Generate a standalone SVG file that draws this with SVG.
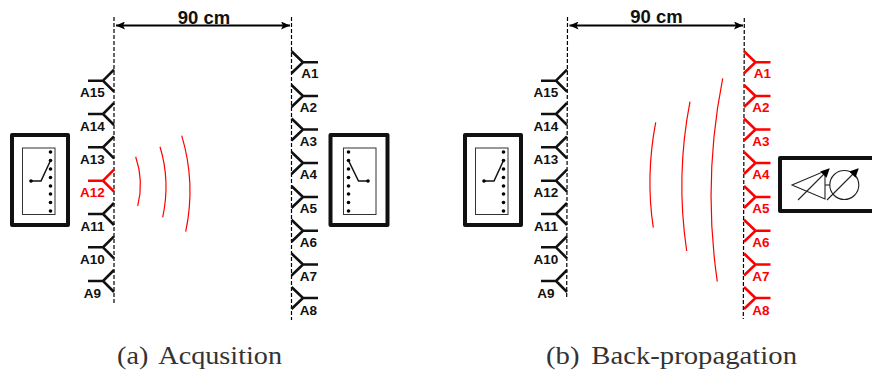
<svg xmlns="http://www.w3.org/2000/svg" width="872" height="374" viewBox="0 0 872 374">
<style>
text{font-family:"Liberation Sans",Arial,sans-serif;font-weight:bold;fill:#111}
.lb{font-size:13.500px;text-anchor:middle}
.dim{font-size:18.500px;text-anchor:middle}
.cap{font-family:"Liberation Serif","Times New Roman",serif;font-weight:normal;font-size:25px;fill:#333;word-spacing:4px}
.dash{fill:none;stroke:#000;stroke-width:1.2;stroke-dasharray:4 2}
.ant{fill:none;stroke:#111;stroke-width:2.600}
.red .ant{stroke:#f00}
.red text{fill:#f00}
.box{fill:#fff;stroke:#111;stroke-width:4;stroke-linejoin:round}
.inner{fill:none;stroke:#333;stroke-width:1}
.sw{fill:none;stroke:#111;stroke-width:1.5}
.wave{fill:none;stroke:#f00;stroke-width:1.2}
.thin{fill:none;stroke:#222;stroke-width:1.1}
.arrow{fill:none;stroke:#000;stroke-width:2.200;marker-start:url(#h);marker-end:url(#h)}
</style>
<defs>
<marker id="h" markerWidth="10" markerHeight="8" refX="9" refY="4" orient="auto-start-reverse" markerUnits="userSpaceOnUse"><path d="M0 0L9 4L0 8L2 4Z" fill="#000"/></marker>
<marker id="p" markerWidth="10" markerHeight="9" refX="8" refY="4.5" orient="auto" markerUnits="userSpaceOnUse"><path d="M0 0L9 4.5L0 9Z" fill="#000"/></marker>
<path id="al" d="M88 0H103M114 -11L103 0L114 11"/>
<path id="ar" d="M318 0H303M291.500 -11L303 0L291.500 11"/>
<g id="dots"><circle cy="152" r="1.800"/><circle cy="160.500" r="1.800"/><circle cy="169" r="1.800"/><circle cy="177.500" r="1.800"/><circle cy="186" r="1.800"/><circle cy="194" r="1.800"/><circle cy="202.500" r="1.800"/><circle cy="211" r="1.800"/></g>
</defs>

<g id="connectors">
<path class="dash" d="M114 17V303"/>
<path class="dash" d="M291.500 17V320"/>
<path class="dash" d="M567.500 17L566.700 298"/>
<path class="dash" d="M744.300 18L743.300 319"/>
<path class="arrow" d="M116 25.500H290"/>
<path class="arrow" d="M569.500 25.500H743"/>
<path class="wave" d="M135.700 156.700Q144 181 137.700 206"/>
<path class="wave" d="M160 146.700Q170.500 181 162.700 217.300"/>
<path class="wave" d="M181.700 135.700Q196 183 185.700 231.700"/>
<path class="wave" d="M655.700 122.300Q645.500 176 653.300 227.700"/>
<path class="wave" d="M690 101.700Q675.500 176 686.700 251"/>
<path class="wave" d="M722.700 78.300Q702.500 180 717.300 281.700"/>
</g>

<text class="dim" x="204" y="24">90 cm</text>
<text class="dim" x="656.500" y="23.300">90 cm</text>

<g id="a-switch-left">
<rect class="box" x="12" y="135" width="56" height="90"/>
<rect class="inner" x="22.500" y="148" width="32.500" height="66.500"/>
<use href="#dots" x="50.500"/>
<path class="sw" d="M31 181H41L50.500 160.500"/>
<circle cx="31" cy="181" r="1.800"/>
</g>
<g id="a-switch-right">
<rect class="box" x="330.500" y="135" width="57" height="90"/>
<rect class="inner" x="343.500" y="148" width="32.500" height="66.500"/>
<use href="#dots" x="348.500"/>
<path class="sw" d="M348.500 160.500L358.500 181H368"/>
<circle cx="368" cy="181" r="1.800"/>
</g>

<g id="a-A15"><use class="ant" href="#al" y="80.700"/><text class="lb" x="92.500" y="97">A15</text></g>
<g id="a-A14"><use class="ant" href="#al" y="114"/><text class="lb" x="92.500" y="130.500">A14</text></g>
<g id="a-A13"><use class="ant" href="#al" y="147.300"/><text class="lb" x="92.500" y="164.300">A13</text></g>
<g id="a-A12" class="red"><use class="ant" href="#al" y="180.700"/><text class="lb" x="92.500" y="197.300">A12</text></g>
<g id="a-A11"><use class="ant" href="#al" y="214"/><text class="lb" x="92.500" y="231">A11</text></g>
<g id="a-A10"><use class="ant" href="#al" y="247.300"/><text class="lb" x="92.500" y="264">A10</text></g>
<g id="a-A9"><use class="ant" href="#al" y="281"/><text class="lb" x="92.500" y="297.500">A9</text></g>

<g id="a-A1"><use class="ant" href="#ar" y="62.300"/><text class="lb" x="310" y="78">A1</text></g>
<g id="a-A2"><use class="ant" href="#ar" y="96"/><text class="lb" x="308.500" y="112">A2</text></g>
<g id="a-A3"><use class="ant" href="#ar" y="129.500"/><text class="lb" x="308.500" y="146">A3</text></g>
<g id="a-A4"><use class="ant" href="#ar" y="163"/><text class="lb" x="308.500" y="179">A4</text></g>
<g id="a-A5"><use class="ant" href="#ar" y="197"/><text class="lb" x="308.500" y="213">A5</text></g>
<g id="a-A6"><use class="ant" href="#ar" y="230.700"/><text class="lb" x="308.500" y="246.500">A6</text></g>
<g id="a-A7"><use class="ant" href="#ar" y="264.500"/><text class="lb" x="308.500" y="281">A7</text></g>
<g id="a-A8"><use class="ant" href="#ar" y="298"/><text class="lb" x="308.500" y="315">A8</text></g>

<g id="b-switch">
<rect class="box" x="465" y="135" width="56" height="90"/>
<rect class="inner" x="475.500" y="148" width="32.500" height="66.500"/>
<use href="#dots" x="503.500"/>
<path class="sw" d="M484 181H494L503.500 160.500"/>
<circle cx="484" cy="181" r="1.800"/>
</g>
<g id="b-amp">
<rect class="box" x="780" y="158" width="94" height="53"/>
<path class="thin" d="M792 185L825 171V199Z"/>
<path class="thin" d="M825 185H830"/>
<circle class="thin" cx="844.300" cy="185" r="14.500"/>
<path class="thin" d="M798 200L829 169" marker-end="url(#p)"/>
<path class="thin" d="M827 200L858 169" marker-end="url(#p)"/>
</g>

<g id="b-A15"><use class="ant" href="#al" x="453" y="80.700"/><text class="lb" x="546" y="97">A15</text></g>
<g id="b-A14"><use class="ant" href="#al" x="453" y="114"/><text class="lb" x="546" y="130.500">A14</text></g>
<g id="b-A13"><use class="ant" href="#al" x="453" y="147.300"/><text class="lb" x="546" y="164.300">A13</text></g>
<g id="b-A12"><use class="ant" href="#al" x="453" y="180.700"/><text class="lb" x="546" y="197.300">A12</text></g>
<g id="b-A11"><use class="ant" href="#al" x="453" y="214"/><text class="lb" x="546" y="231">A11</text></g>
<g id="b-A10"><use class="ant" href="#al" x="453" y="247.300"/><text class="lb" x="546" y="264">A10</text></g>
<g id="b-A9"><use class="ant" href="#al" x="453" y="281"/><text class="lb" x="546" y="297.500">A9</text></g>

<g id="b-A1" class="red"><use class="ant" href="#ar" x="452.500" y="62.300"/><text class="lb" x="762.500" y="78">A1</text></g>
<g id="b-A2" class="red"><use class="ant" href="#ar" x="452.500" y="96"/><text class="lb" x="761" y="112">A2</text></g>
<g id="b-A3" class="red"><use class="ant" href="#ar" x="452.500" y="129.500"/><text class="lb" x="761" y="146">A3</text></g>
<g id="b-A4" class="red"><use class="ant" href="#ar" x="452.500" y="163"/><text class="lb" x="761" y="179">A4</text></g>
<g id="b-A5" class="red"><use class="ant" href="#ar" x="452.500" y="197"/><text class="lb" x="761" y="213">A5</text></g>
<g id="b-A6" class="red"><use class="ant" href="#ar" x="452.500" y="230.700"/><text class="lb" x="761" y="246.500">A6</text></g>
<g id="b-A7" class="red"><use class="ant" href="#ar" x="452.500" y="264.500"/><text class="lb" x="761" y="281">A7</text></g>
<g id="b-A8" class="red"><use class="ant" href="#ar" x="452.500" y="298"/><text class="lb" x="761" y="315">A8</text></g>

<text class="cap" x="117" y="364" textLength="165" lengthAdjust="spacingAndGlyphs">(a) Acqusition</text>
<text class="cap" x="546" y="364" textLength="251" lengthAdjust="spacingAndGlyphs">(b) Back-propagation</text>
</svg>
